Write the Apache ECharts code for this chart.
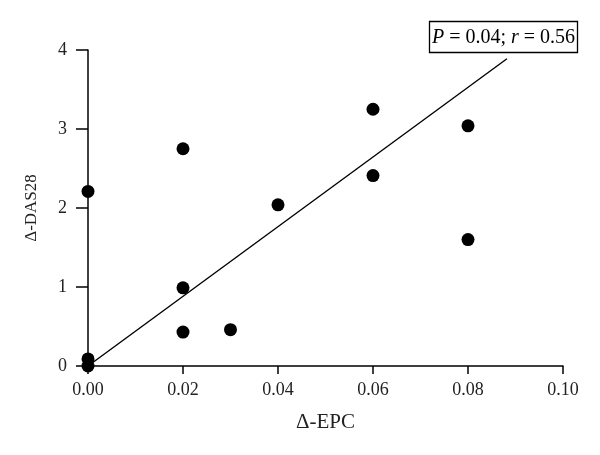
<!DOCTYPE html>
<html>
<head>
<meta charset="utf-8">
<script src="https://cdn.jsdelivr.net/npm/echarts@6/dist/echarts.min.js"></script>
<style>html,body{margin:0;padding:0;background:#fff}#c{width:600px;height:455px}</style>
</head>
<body>
<div id="c"></div>
<script>
// Data
const epc = [0.00, 0.00, 0.00, 0.02, 0.02, 0.02, 0.03, 0.04, 0.06, 0.06, 0.08, 0.08];
const das28 = [2.21, 0.09, 0.00, 2.75, 0.99, 0.43, 0.46, 2.04, 3.25, 2.41, 3.04, 1.60];
const fitX = [0.00, 0.0882];
const fitY = [0.00, 3.89];
const xTicks = ['0.00', '0.02', '0.04', '0.06', '0.08', '0.10'];
const yTicks = ['0', '1', '2', '3', '4'];
const pValue = '0.04';
const rValue = '0.56';
const xName = 'Δ-EPC';
const yName = 'Δ-DAS28';

const FONT = 'Liberation Serif';
const chart = echarts.init(document.getElementById('c'), null, {renderer: 'canvas'});
chart.setOption({
  backgroundColor: '#fff',
  animation: false,
  title: {
    text: '{i|P} = ' + pValue + '; {i|r} = ' + rValue,
    left: 429, top: 21,
    padding: [7, 3, 5, 3],
    borderColor: '#000', borderWidth: 1.3,
    textStyle: {
      fontFamily: FONT, fontSize: 20, fontWeight: 'normal', color: '#000',
      rich: { i: { fontFamily: FONT, fontSize: 20, fontStyle: 'italic', color: '#000' } }
    }
  },
  grid: { left: 88, right: 37, top: 50, bottom: 89, containLabel: false },
  xAxis: {
    type: 'value', min: 0, max: 0.1, interval: 0.02,
    name: xName, nameLocation: 'middle', nameGap: 46,
    nameTextStyle: { fontFamily: FONT, fontSize: 21, color: '#222' },
    axisLine: { show: true, onZero: false, lineStyle: { color: '#000', width: 1.5 } },
    axisTick: { show: true, inside: false, length: 8, lineStyle: { color: '#000', width: 1.5 } },
    axisLabel: { fontFamily: FONT, fontSize: 18, color: '#222', margin: 15,
      formatter: (v) => xTicks[Math.round(v / 0.02)] },
    splitLine: { show: false }
  },
  yAxis: {
    type: 'value', min: 0, max: 4, interval: 1,
    name: yName, nameLocation: 'middle', nameGap: 48, nameRotate: 90,
    nameTextStyle: { fontFamily: FONT, fontSize: 17, color: '#222' },
    axisLine: { show: true, onZero: false, lineStyle: { color: '#000', width: 1.5 } },
    axisTick: { show: true, inside: false, length: 12, lineStyle: { color: '#000', width: 1.5 } },
    axisLabel: { fontFamily: FONT, fontSize: 18, color: '#222', margin: 21,
      formatter: (v) => yTicks[Math.round(v)] },
    splitLine: { show: false }
  },
  series: [
    {
      type: 'line',
      data: fitX.map((x, i) => [x, fitY[i]]),
      symbol: 'none',
      lineStyle: { color: '#000', width: 1.4 },
      z: 1
    },
    {
      type: 'scatter',
      data: epc.map((x, i) => [x, das28[i]]),
      symbol: 'circle', symbolSize: 13,
      itemStyle: { color: '#000', opacity: 1 },
      z: 2
    }
  ]
});
</script>
</body>
</html>
